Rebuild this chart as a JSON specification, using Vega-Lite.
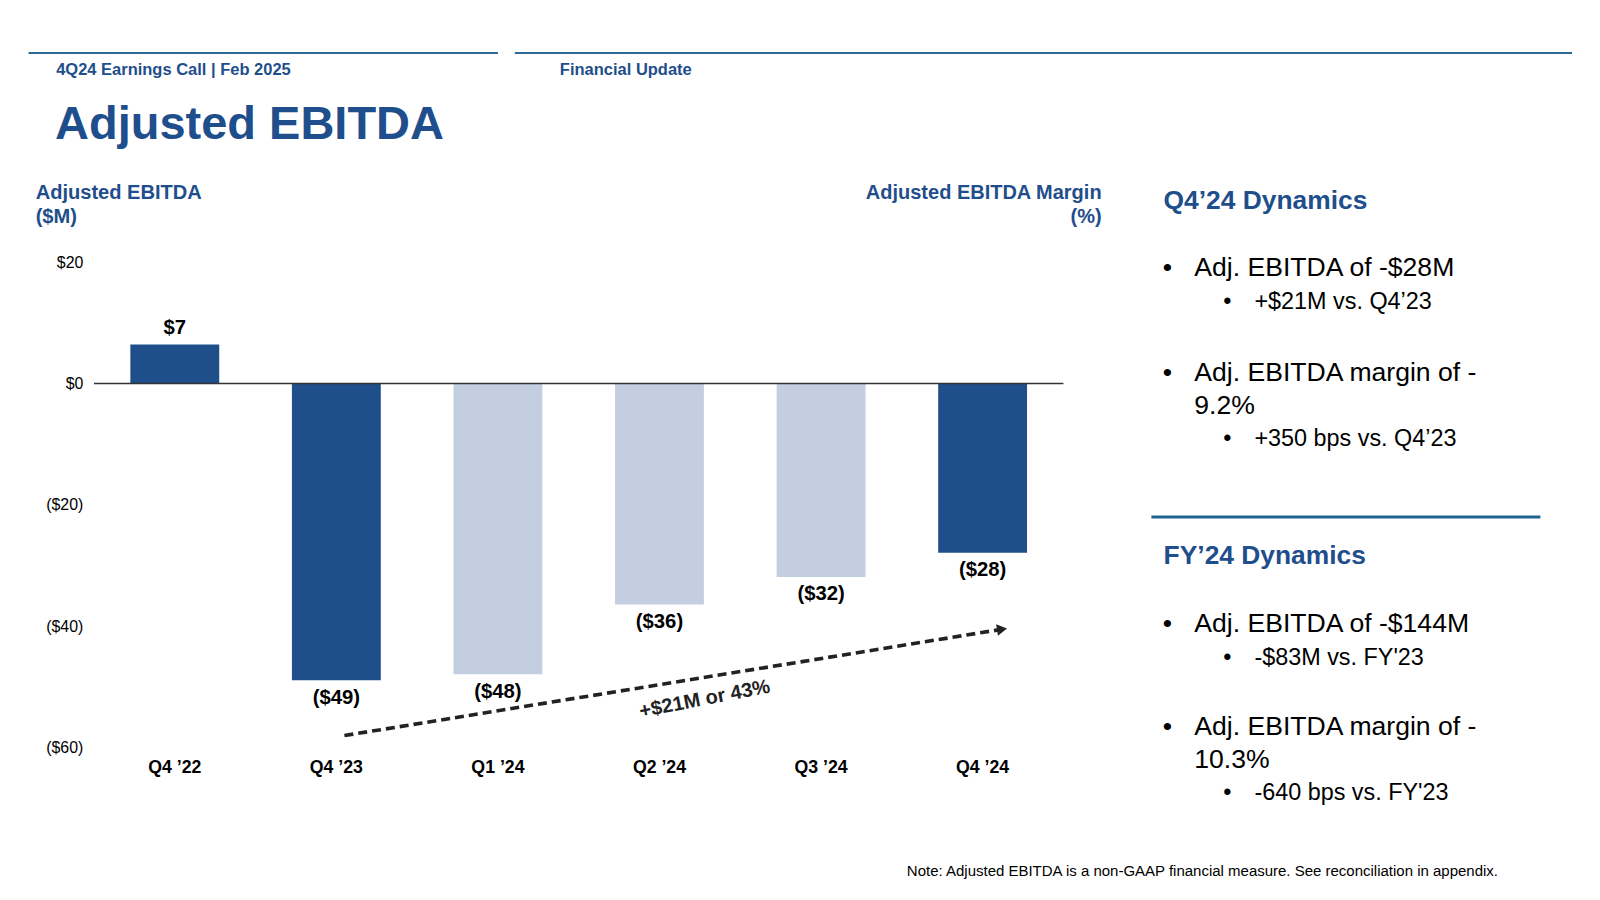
{
  "$schema": "https://vega.github.io/schema/vega-lite/v6.json",
  "background": "white",
  "padding": {"left": 27.55, "top": 52, "right": 10, "bottom": 5},
  "config": {
    "font": "Liberation Sans",
    "view": {"stroke": null}
  },
  "title": {"text": "Note: Adjusted EBITDA is a non-GAAP financial measure. See reconciliation in appendix.", "orient": "bottom", "anchor": "end", "dx": -75, "offset": 59, "baseline": "top", "fontSize": 15, "fontWeight": "normal", "color": "#000"},
  "datasets": {
    "ebitda": [
      {"quarter": "Q4 ’22", "value": 6.4, "label": "$7", "period": "Q4"},
      {"quarter": "Q4 ’23", "value": -48.9, "label": "($49)", "period": "Q4"},
      {"quarter": "Q1 ’24", "value": -47.9, "label": "($48)", "period": "Interim"},
      {"quarter": "Q2 ’24", "value": -36.4, "label": "($36)", "period": "Interim"},
      {"quarter": "Q3 ’24", "value": -31.9, "label": "($32)", "period": "Interim"},
      {"quarter": "Q4 ’24", "value": -27.9, "label": "($28)", "period": "Q4"}
    ],
    "trend": [
      {"startIndex": 1.55, "endIndex": 5.62, "startValue": -58, "endValue": -40.5, "noteIndex": 3.78, "noteValue": -52, "note": "+$21M or 43%"}
    ],
    "notes": [
      {"line": 0, "level": 0, "kind": "head", "text": "Q4’24 Dynamics"},
      {"line": 4, "level": 1, "kind": "bullet", "text": "Adj. EBITDA of -$28M"},
      {"line": 6, "level": 2, "kind": "bullet", "text": "+$21M vs. Q4’23"},
      {"line": 10.2, "level": 1, "kind": "bullet", "text": "Adj. EBITDA margin of -"},
      {"line": 12.1, "level": 1, "kind": "cont", "text": "9.2%"},
      {"line": 14.1, "level": 2, "kind": "bullet", "text": "+350 bps vs. Q4’23"},
      {"line": 21, "level": 0, "kind": "head", "text": "FY’24 Dynamics"},
      {"line": 25, "level": 1, "kind": "bullet", "text": "Adj. EBITDA of -$144M"},
      {"line": 27, "level": 2, "kind": "bullet", "text": "-$83M vs. FY'23"},
      {"line": 31.1, "level": 1, "kind": "bullet", "text": "Adj. EBITDA margin of -"},
      {"line": 33, "level": 1, "kind": "cont", "text": "10.3%"},
      {"line": 35, "level": 2, "kind": "bullet", "text": "-640 bps vs. FY'23"}
    ],
    "header": [
      {"section": "4Q24 Earnings Call | Feb 2025"},
      {"section": "Financial Update"}
    ]
  },
  "spacing": 21,
  "columns": 1,
  "align": "none",
  "concat": [
    {
      "spacing": 14.3,
      "hconcat": [
        {
          "width": 469.4,
          "height": 1,
          "data": {"name": "header"},
          "transform": [{"filter": "datum.section == '4Q24 Earnings Call | Feb 2025'"}],
          "title": {"text": "4Q24 Earnings Call | Feb 2025", "orient": "bottom", "anchor": "start", "dx": 28.6, "offset": 8, "baseline": "top", "fontSize": 16.5, "fontWeight": "bold", "color": "#1f4e8c"},
          "mark": {"type": "rule", "color": "#2a6a94", "strokeWidth": 2},
          "encoding": {"y": {"datum": 0, "type": "quantitative", "axis": null}}
        },
        {
          "width": 1057.1,
          "height": 1,
          "data": {"name": "header"},
          "transform": [{"filter": "datum.section == 'Financial Update'"}],
          "title": {"text": "Financial Update", "orient": "bottom", "anchor": "start", "dx": 46, "offset": 8, "baseline": "top", "fontSize": 16.5, "fontWeight": "bold", "color": "#1f4e8c"},
          "mark": {"type": "rule", "color": "#2a6a94", "strokeWidth": 2},
          "encoding": {"y": {"datum": 0, "type": "quantitative", "axis": null}}
        }
      ]
    },
    {
      "title": {"text": "Adjusted EBITDA", "anchor": "start", "dx": 26.5, "offset": 34, "fontSize": 47, "fontWeight": "bold", "color": "#1f4e8c"},
      "spacing": 5.45,
      "hconcat": [
        {
          "width": 1,
          "height": 1,
          "data": {"values": []},
          "mark": {"type": "point", "opacity": 0},
          "encoding": {}
        },
        {
          "spacing": 47.4,
          "hconcat": [
            {
              "width": 969.4,
              "height": 485.7,
              "data": {"name": "ebitda"},
              "resolve": {"scale": {"x": "independent", "y": "independent"}},
              "layer": [
                {
                  "mark": {"type": "bar"},
                  "encoding": {
                    "x": {"field": "quarter", "type": "nominal", "sort": null,
                          "scale": {"domain": ["Q4 ’22", "Q4 ’23", "Q1 ’24", "Q2 ’24", "Q3 ’24", "Q4 ’24"], "paddingInner": 0.45, "paddingOuter": 0.225},
                          "axis": {"title": null, "labelAngle": 0, "labelFontSize": 17.7, "labelFontWeight": "bold", "labelColor": "#000", "labelPadding": 10.4, "domain": false, "ticks": false, "grid": false}},
                    "y": {"field": "value", "type": "quantitative",
                          "scale": {"domain": [-60, 20], "nice": false, "zero": false},
                          "axis": {"values": [20, 0, -20, -40, -60],
                                   "labelExpr": "datum.value < 0 ? '($' + abs(datum.value) + ')' : '$' + datum.value",
                                   "grid": false, "domain": false, "ticks": false,
                                   "labelFontSize": 15.9, "labelColor": "#000", "labelPadding": 11.2,
                                   "title": ["Adjusted EBITDA", "($M)"], "titleAngle": 0, "titleAlign": "left", "titleBaseline": "top",
                                   "titleX": -58.86, "titleY": -79.5, "titleFontSize": 20.1, "titleFontWeight": "bold", "titleColor": "#1f4e8c", "titleLineHeight": 24.5}},
                    "color": {"field": "period", "type": "nominal",
                              "scale": {"domain": ["Q4", "Interim"], "range": ["#1e4f8b", "#c3cfe1"]}, "legend": null}
                  }
                },
                {
                  "data": {"values": [{"baseline": 0}]},
                  "mark": {"type": "rule", "color": "#333333", "strokeWidth": 1.5},
                  "encoding": {
                    "y": {"field": "baseline", "type": "quantitative",
                          "scale": {"domain": [-60, 20], "nice": false, "zero": false},
                          "axis": {"orient": "right", "labels": false, "ticks": false, "domain": false, "grid": false,
                                   "title": ["Adjusted EBITDA Margin", "(%)"], "titleAngle": 0, "titleAlign": "right", "titleBaseline": "top",
                                   "titleX": 37.7, "titleY": -79.5, "titleFontSize": 20, "titleFontWeight": "bold", "titleColor": "#1f4e8c", "titleLineHeight": 24.5}}
                  }
                },
                {
                  "transform": [{"filter": "datum.value >= 0"}],
                  "mark": {"type": "text", "baseline": "middle", "dy": -16.3, "fontSize": 20.3, "fontWeight": "bold", "color": "#000"},
                  "encoding": {
                    "x": {"field": "quarter", "type": "nominal", "sort": null, "scale": {"domain": ["Q4 ’22", "Q4 ’23", "Q1 ’24", "Q2 ’24", "Q3 ’24", "Q4 ’24"], "paddingInner": 0.45, "paddingOuter": 0.225}, "axis": null},
                    "y": {"field": "value", "type": "quantitative", "scale": {"domain": [-60, 20], "nice": false, "zero": false}, "axis": null},
                    "text": {"field": "label"}
                  }
                },
                {
                  "transform": [{"filter": "datum.value < 0"}],
                  "mark": {"type": "text", "baseline": "middle", "dy": 17.3, "fontSize": 20.3, "fontWeight": "bold", "color": "#000"},
                  "encoding": {
                    "x": {"field": "quarter", "type": "nominal", "sort": null, "scale": {"domain": ["Q4 ’22", "Q4 ’23", "Q1 ’24", "Q2 ’24", "Q3 ’24", "Q4 ’24"], "paddingInner": 0.45, "paddingOuter": 0.225}, "axis": null},
                    "y": {"field": "value", "type": "quantitative", "scale": {"domain": [-60, 20], "nice": false, "zero": false}, "axis": null},
                    "text": {"field": "label"}
                  }
                },
                {
                  "data": {"name": "trend"},
                  "mark": {"type": "rule", "color": "#222222", "strokeWidth": 3.6, "strokeDash": [9, 5]},
                  "encoding": {
                    "x": {"field": "startIndex", "type": "quantitative", "scale": {"domain": [0, 6], "nice": false, "zero": false}, "axis": null},
                    "x2": {"field": "endIndex"},
                    "y": {"field": "startValue", "type": "quantitative", "scale": {"domain": [-60, 20], "nice": false, "zero": false}, "axis": null},
                    "y2": {"field": "endValue"}
                  }
                },
                {
                  "data": {"name": "trend"},
                  "mark": {"type": "point", "shape": "triangle-right", "filled": true, "size": 135, "angle": 351, "color": "#222222", "opacity": 1},
                  "encoding": {
                    "x": {"field": "endIndex", "type": "quantitative", "scale": {"domain": [0, 6], "nice": false, "zero": false}, "axis": null},
                    "y": {"field": "endValue", "type": "quantitative", "scale": {"domain": [-60, 20], "nice": false, "zero": false}, "axis": null}
                  }
                },
                {
                  "data": {"name": "trend"},
                  "mark": {"type": "text", "angle": 349, "fontSize": 20, "fontWeight": "bold", "color": "#222222", "baseline": "middle"},
                  "encoding": {
                    "x": {"field": "noteIndex", "type": "quantitative", "scale": {"domain": [0, 6], "nice": false, "zero": false}, "axis": null},
                    "y": {"field": "noteValue", "type": "quantitative", "scale": {"domain": [-60, 20], "nice": false, "zero": false}, "axis": null},
                    "text": {"field": "note"}
                  }
                }
              ]
            },
            {
              "width": 389,
              "height": 531.6,
              "data": {"name": "notes"},
              "layer": [
                {
                  "data": {"values": [{"divider": 18.67}]},
                  "mark": {"type": "rule", "color": "#1f6391", "strokeWidth": 3},
                  "encoding": {
                    "y": {"field": "divider", "type": "quantitative", "scale": {"domain": [3.62, 35.01], "reverse": true, "nice": false, "zero": false}, "axis": null}
                  }
                },
                {
                  "transform": [{"filter": "datum.kind == 'head'"}],
                  "mark": {"type": "text", "align": "left", "baseline": "middle", "fontSize": 26.4, "fontWeight": "bold", "color": "#1f4e8c"},
                  "encoding": {
                    "x": {"field": "level", "type": "quantitative", "scale": {"domain": [0, 1, 2], "range": [12.2, 42.9, 103], "nice": false, "zero": false}, "axis": null},
                    "y": {"field": "line", "type": "quantitative", "scale": {"domain": [3.62, 35.01], "reverse": true, "nice": false, "zero": false}, "axis": null},
                    "text": {"field": "text"}
                  }
                },
                {
                  "transform": [{"filter": "datum.kind != 'head'"}],
                  "mark": {"type": "text", "align": "left", "baseline": "middle", "color": "#000"},
                  "encoding": {
                    "x": {"field": "level", "type": "quantitative", "scale": {"domain": [0, 1, 2], "range": [12.2, 42.9, 103], "nice": false, "zero": false}, "axis": null},
                    "y": {"field": "line", "type": "quantitative", "scale": {"domain": [3.62, 35.01], "reverse": true, "nice": false, "zero": false}, "axis": null},
                    "size": {"field": "level", "type": "quantitative", "scale": {"domain": [1, 2], "range": [26.6, 23.4]}, "legend": null},
                    "text": {"field": "text"}
                  }
                },
                {
                  "transform": [{"filter": "datum.kind == 'bullet'"}],
                  "mark": {"type": "text", "align": "center", "baseline": "middle", "dx": -27, "color": "#000", "text": "•"},
                  "encoding": {
                    "x": {"field": "level", "type": "quantitative", "scale": {"domain": [0, 1, 2], "range": [12.2, 42.9, 103], "nice": false, "zero": false}, "axis": null},
                    "y": {"field": "line", "type": "quantitative", "scale": {"domain": [3.62, 35.01], "reverse": true, "nice": false, "zero": false}, "axis": null},
                    "size": {"field": "level", "type": "quantitative", "scale": {"domain": [1, 2], "range": [22.5, 18.5]}, "legend": null}
                  }
                }
              ]
            }
          ]
        }
      ]
    }
  ]
}
